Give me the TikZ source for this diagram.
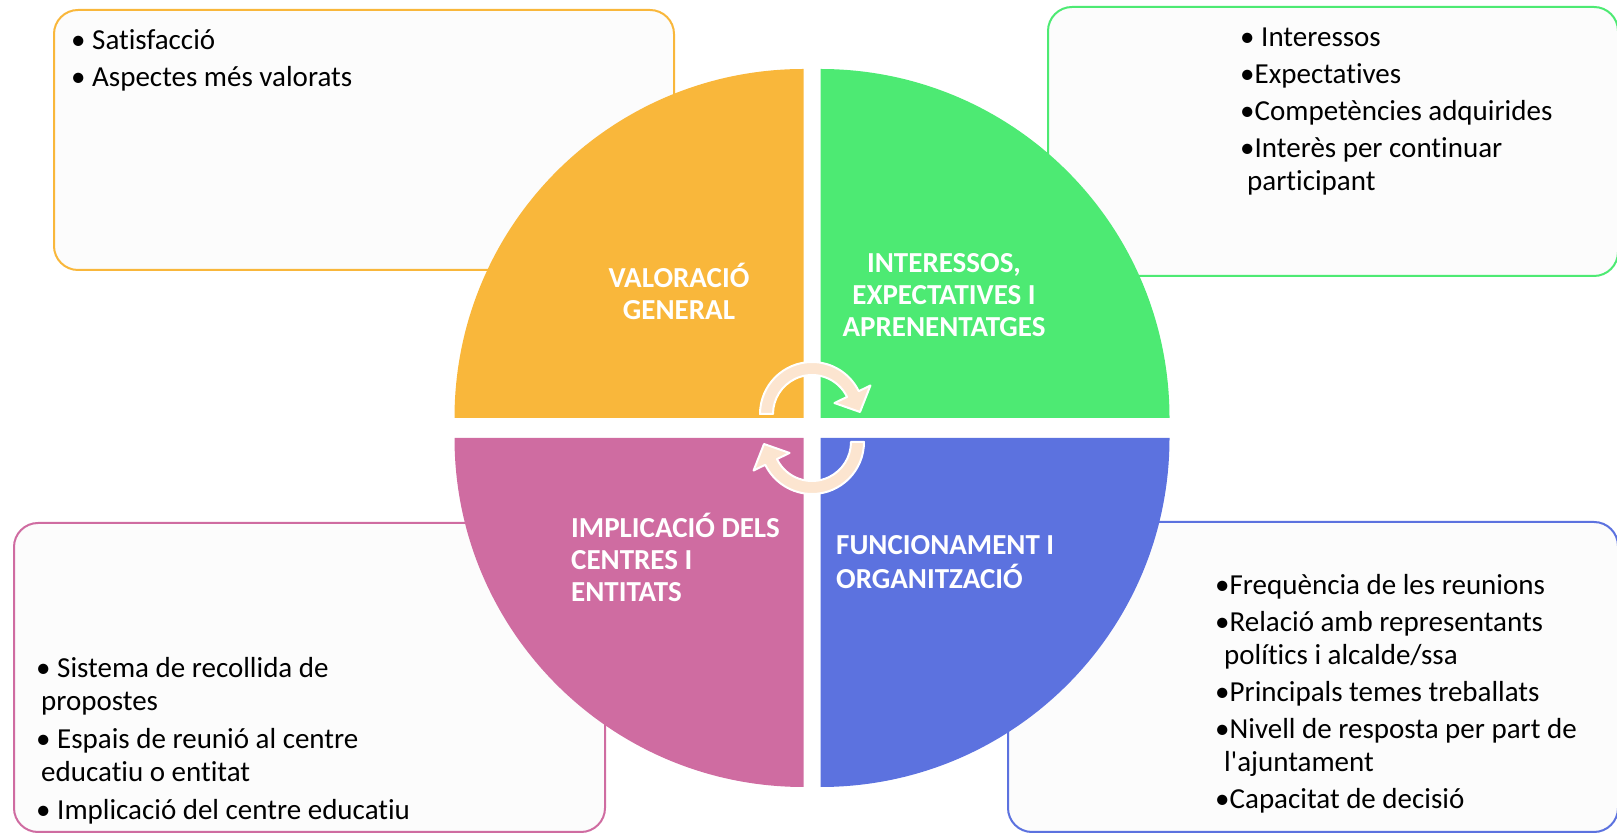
\documentclass[tikz,border=0pt]{standalone}
\usepackage{fontspec}
\setmainfont{Carlito}[Ligatures={TeXOff,CommonOff}]
\usepackage{tikz}
\usetikzlibrary{positioning}
\definecolor{valcol}{HTML}{F9B73B}
\definecolor{intcol}{HTML}{4DEA73}
\definecolor{impcol}{HTML}{CF6CA1}
\definecolor{funcol}{HTML}{5C72DF}
\definecolor{boxfill}{HTML}{FCFCFC}
\definecolor{turnfill}{HTML}{FCE5D0}
\newcommand{\itemlist}[1]{\begin{tabular}[t]{@{}l@{}}#1\end{tabular}}
\newcommand{\titlec}[1]{\begin{tabular}[t]{@{}c@{}}#1\end{tabular}}
\newcommand{\titlel}[1]{\begin{tabular}[t]{@{}l@{}}#1\end{tabular}}

\begin{document}
\begin{tikzpicture}[x=1pt,y=1pt,
		infobox/.style={
			draw=#1,
			line width=2pt,
			rounded corners=24pt,
			fill=boxfill,
			inner sep=0pt,
		},
		itemtext/.style={inner sep=0pt, anchor=base west, font=\fontsize{29}{33}\selectfont},
		title/.style={inner sep=0pt, text=white, font=\fontsize{29}{32}\selectfont\bfseries},
		turn/.style={fill=turnfill, draw=white, line width=2pt, line join=round}]
		\useasboundingbox (0,0) rectangle (1617,835);
		
		\node[infobox=valcol, minimum width=620, minimum height=260] (valBox) at (364,695) {};
		\node[infobox=intcol, minimum width=570, minimum height=269] (intBox) at (1333,693.5) {};
		\node[infobox=impcol, minimum width=591, minimum height=309] (impBox) at (309.5,157.5) {};
		\node[infobox=funcol, minimum width=610, minimum height=310] (funBox) at (1313,158) {};
		
		\fill[valcol] (803.5,417) --++(180:349) arc[start angle=180, end angle=90, radius=349] -- cycle;
		\fill[intcol] (820.5,417) --++(0:349) arc[start angle=0, end angle=90, radius=349] -- cycle;
		\fill[impcol] (803.5,397) --++(180:349) arc[start angle=180, end angle=270, radius=349] -- cycle;
		\fill[funcol] (820.5,397) --++(0:349) arc[start angle=0, end angle=-90, radius=349] -- cycle;
		
		\begin{scope}[shift={(812,421)}]
			\draw[turn] (180:52) arc[start angle=180, end angle=26, radius=52] -- (26:65) -- (48,2) -- (26:25) -- (26:39) arc[start angle=26, end angle=180, radius=39] -- cycle;
		\end{scope}
		\begin{scope}[rotate around={180:(812,407)}, shift={(812,421)}]
			\draw[turn] (180:52) arc[start angle=180, end angle=26, radius=52] -- (26:65) -- (48,2) -- (26:25) -- (26:39) arc[start angle=26, end angle=180, radius=39] -- cycle;
		\end{scope}
		
		\node[title, anchor=base] (valTitle) at (679,547) {\titlec{VALORACIÓ\\GENERAL}};
		\node[title, anchor=base] (intTitle) at (944,562) {\titlec{INTERESSOS,\\EXPECTATIVES I\\APRENENTATGES}};
		\node[title, anchor=base west] (impTitle) at (571,297) {\titlel{IMPLICACIÓ DELS\\CENTRES I\\ENTITATS}};
		\node[title, anchor=base west] (funTitle) at (836,280) {\titlel{FUNCIONAMENT I\\ORGANITZACIÓ}};
		
		\node[itemtext] (valList) at (71,785) {\itemlist{• Satisfacció\\[4pt] • Aspectes més valorats}};
		\node[itemtext] (intList) at (1240,788) {\itemlist{• Interessos\\[4pt] •Expectatives\\[4pt] •Competències adquirides\\[4pt] •Interès per continuar\\ \hspace{7pt}participant}};
		\node[itemtext] (impList) at (36,157) {\itemlist{• Sistema de recollida de\\ \hspace{5pt}propostes\\[5pt] • Espais de reunió al centre\\ \hspace{5pt}educatiu o entitat\\[5pt] • Implicació del centre educatiu}};
		\node[itemtext] (funList) at (1215,240) {\itemlist{•Frequència de les reunions\\[4pt] •Relació amb representants\\ \hspace{9pt}polítics i alcalde/ssa\\[4pt] •Principals temes treballats\\[4pt] •Nivell de resposta per part de\\ \hspace{9pt}l'ajuntament\\[4pt] •Capacitat de decisió}};
	\end{tikzpicture}
\end{document}
